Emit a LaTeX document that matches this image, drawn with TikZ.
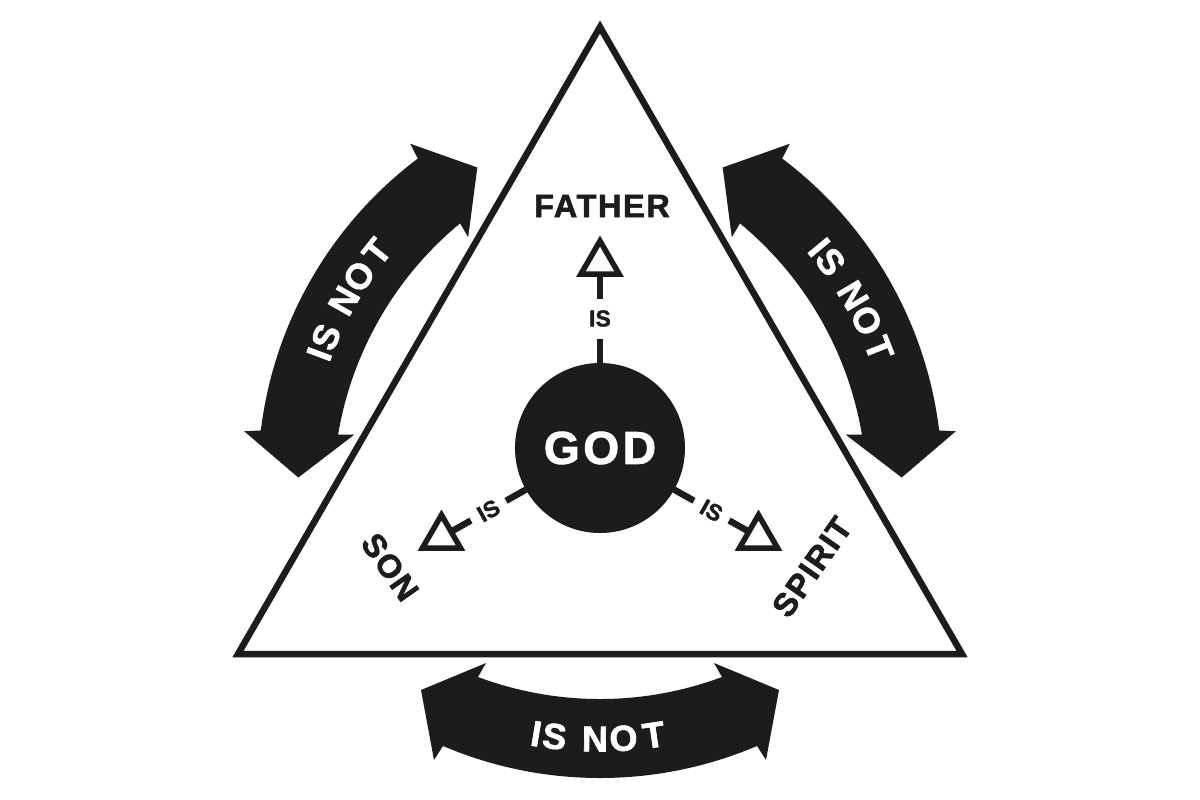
\documentclass[tikz,border=0pt]{standalone}
\usepackage{fontspec}
\setmainfont{Liberation Sans}
\usetikzlibrary{shapes.geometric}
\definecolor{ink}{HTML}{1C1C1C}
\begin{document}
\begin{tikzpicture}[x=1pt,y=-1pt,
  tri/.style={regular polygon, regular polygon sides=3, draw=ink, fill=white,
    line width=5.5pt, minimum size=44pt, inner sep=0pt, outer sep=0pt},
  conn/.style={draw=ink, line width=6.5pt},
  islab/.style={fill=white, text=ink, inner sep=0pt,
    font=\bfseries\fontsize{23}{23}\selectfont\addfontfeature{FakeBold=1.5}},
  isvert/.style={islab, minimum height=40pt, minimum width=22pt},
  isslope/.style={islab, sloped, minimum width=40pt, minimum height=20pt},
  persona/.style={text=ink, inner sep=0pt,
    font=\bfseries\fontsize{32.5}{32.5}\selectfont\addfontfeature{LetterSpace=5,FakeBold=1.8}},
  godnode/.style={circle, fill=ink, minimum size=170pt, inner sep=0pt, outer sep=0pt,
    text=white, font=\bfseries\fontsize{46}{46}\selectfont\addfontfeature{LetterSpace=8,FakeBold=2}},
  isnotch/.style={text=white, inner sep=0pt, text height=25pt, text depth=0pt,
    font=\bfseries\fontsize{36}{36}\selectfont\addfontfeature{FakeBold=1.8}},
  bigarrow/.style={fill=ink}
]
\useasboundingbox (0,0) rectangle (1200,800);
\fill[white] (0,0) rectangle (1200,800);

% main triangle
\draw[ink, line width=6.5pt, line join=miter] (600,27) -- (238,654) -- (962,654) -- cycle;

% curved "IS NOT" arrows
\foreach \r/\s/\k in {0/1/b, -120/-1/l, 120/-1/r}{
  \begin{scope}[rotate around={\r:(600,445)}]
    \fill[bigarrow] (421,690) -- (486,663) -- (478,677)
      arc[start angle=110.46, end angle=69.54, radius=349]
      -- (714,663) -- (779,690) -- (766,760) -- (757,746)
      arc[start angle=66.95, end angle=113.05, radius=401]
      -- (434,760) -- cycle;
    \foreach \ch/\o in {I/-63, S/-44.5, N/-4, O/24.5, T/55}{
      \pgfmathsetmacro\ph{90-\s*\o*0.1524}
      \pgfmathsetmacro\rt{90-\ph+(1-\s)*90+\r}
      \node[isnotch, rotate=\rt] (\k\ch) at ({599+376*cos(\ph)},{363+376*sin(\ph)}) {\ch};
    }
  \end{scope}
}

% God and the three persons
\node[godnode] (god) at (600,448) {GOD};
\node[tri] (fa) at (600,263) {};
\node[tri] (so) at (441.5,537) {};
\node[tri] (sp) at (758.5,537) {};

\draw[conn] (god) -- node[isvert] {IS} (fa);
\draw[conn] (god) -- node[isslope] {IS} (so);
\draw[conn] (god) -- node[isslope] {IS} (sp);

\node[persona] (lfa) at (602,206) {FATHER};
\node[persona, rotate=-55] (lso) at (390,567) {SON};
\node[persona, rotate=55] (lsp) at (812,567) {SPIRIT};
\end{tikzpicture}
\end{document}
